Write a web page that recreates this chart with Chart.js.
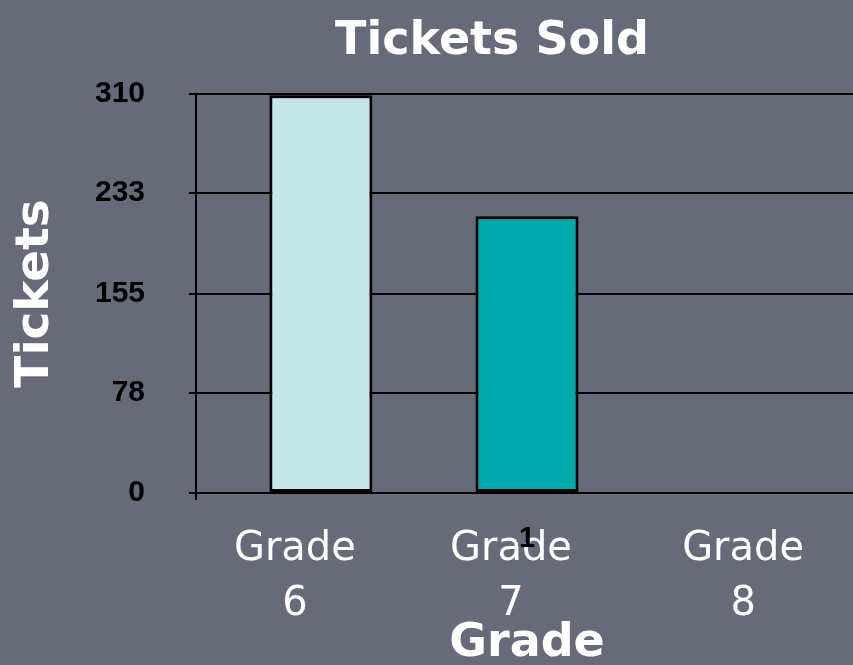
<!DOCTYPE html>
<html>
<head>
<meta charset="utf-8">
<script src="https://cdn.jsdelivr.net/npm/chart.js@4/dist/chart.umd.min.js"></script>
<style>
  html, body { margin: 0; padding: 0; overflow: hidden; background: #676a79; }
  canvas { display: block; }
</style>
</head>
<body>
<canvas id="chart" width="862" height="665"></canvas>
<script>
// data
const categories = ['1']
const seriesNames = ['Grade 6', 'Grade 7', 'Grade 8']
const ticketsSold = [309, 215, 0]
const yTickValues = [0, 78, 155, 233, 310]

const fills = ['#c5e6e8', '#00a9a9', '#4fb8c0']
const labelShift = [-26, -16, 10]

// white "Grade N" captions sit under the bars, behind the axis label "1"
const captions = {
  id: 'captions',
  beforeDraw(chart) {
    const ctx = chart.ctx
    ctx.save()
    ctx.fillStyle = '#ffffff'
    ctx.textAlign = 'center'
    ctx.textBaseline = 'middle'
    ctx.font = '40px "DejaVu Sans"'
    chart.data.datasets.forEach((ds, i) => {
      const bar = chart.getDatasetMeta(i).data[0]
      const x = bar.x + labelShift[i]
      const [word, num] = ds.label.split(' ')
      ctx.fillText(word, x, 550)
      ctx.fillText(num, x, 605)
    })
    ctx.font = 'bold 46px "DejaVu Sans"'
    ctx.textBaseline = 'alphabetic'
    ctx.fillText('Tickets Sold', 492, 54)
    ctx.restore()
  },
}

new Chart(document.getElementById('chart'), {
  type: 'bar',
  data: {
    labels: categories,
    datasets: seriesNames.map((name, i) => ({
      label: name,
      data: [ticketsSold[i]],
      backgroundColor: fills[i],
      borderColor: '#000000',
      borderWidth: 3,
      borderSkipped: false,
      categoryPercentage: 0.934,
      barPercentage: 0.5,
    })),
  },
  options: {
    responsive: false,
    animation: false,
    layout: { padding: { top: 94, right: 4, left: 0, bottom: 0 } },
    plugins: {
      legend: { display: false },
      tooltip: { enabled: false },
    },
    scales: {
      x: {
        offset: true,
        grid: {
          display: true,
          offset: true,
          color: '#000000',
          lineWidth: 2,
          tickLength: 7,
        },
        border: { color: '#000000', width: 2 },
        ticks: {
          color: '#000000',
          padding: 22,
          font: { family: '"Liberation Sans", Arial', size: 29, weight: 'bold' },
        },
        title: {
          display: true,
          text: 'Grade',
          color: '#ffffff',
          padding: 0,
          font: { family: '"DejaVu Sans"', size: 46, weight: 'bold', lineHeight: 0.9 },
        },
        afterFit(scale) { scale.height = 172 },
      },
      y: {
        min: 0,
        max: 310,
        afterBuildTicks(scale) {
          scale.ticks = yTickValues.map((v) => ({ value: v }))
        },
        grid: { color: '#000000', lineWidth: 2, tickLength: 7 },
        border: { color: '#000000', width: 2 },
        ticks: {
          color: '#000000',
          padding: 44,
          font: { family: '"Liberation Sans", Arial', size: 30, weight: 'bold' },
        },
        title: {
          display: true,
          text: 'Tickets',
          color: '#ffffff',
          padding: { top: 12, bottom: 0 },
          font: { family: '"DejaVu Sans"', size: 47, weight: 'bold', lineHeight: 1 },
        },
        afterFit(scale) { scale.width = 196 },
      },
    },
  },
  plugins: [captions],
})
</script>
</body>
</html>
